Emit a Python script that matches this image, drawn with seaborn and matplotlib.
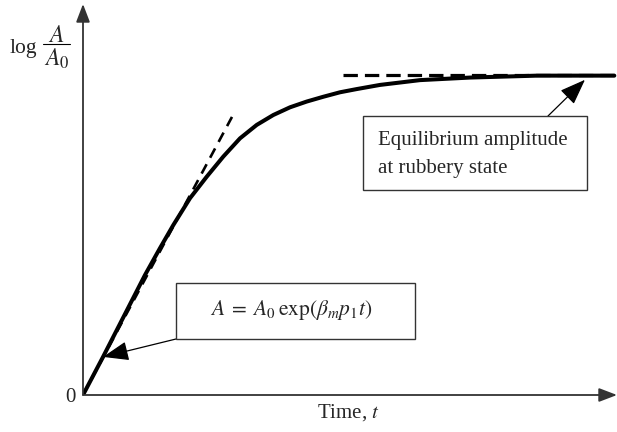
import numpy as np
import pandas as pd
import matplotlib
matplotlib.use("Agg")
import matplotlib.pyplot as plt
import matplotlib.transforms as mtransforms
from matplotlib.patches import Rectangle
from matplotlib.lines import Line2D
import seaborn as sns

# Growth of the log amplitude ratio with time
t_vals = [0.0, 0.375, 1.161, 1.442, 1.691, 2.004, 2.316, 2.627, 2.940,
          3.253, 3.564, 3.876, 4.189, 4.500, 4.813, 5.125, 5.562, 6.311,
          7.247, 8.502, 9.95]
log_ratio = [0.0, 0.119, 0.375, 0.459, 0.531, 0.615, 0.682, 0.745, 0.802,
             0.844, 0.875, 0.899, 0.917, 0.932, 0.946, 0.956, 0.969, 0.984,
             0.992, 0.998, 0.998]

# Initial exponential growth (tangent at origin)
tangent_t = [0.0, 2.79]
tangent_y = [0.0, 0.869]

# Equilibrium amplitude level
plateau_t = [4.87, 10.0]
plateau_y = [1.0, 1.0]

W, H, DPI = 617, 432, 100

sns.set_theme(style="white")
plt.rcParams["font.family"] = ["Liberation Serif", "DejaVu Serif"]
plt.rcParams["mathtext.fontset"] = "stix"

fig = plt.figure(figsize=(W / DPI, H / DPI), dpi=DPI)
fig.patch.set_facecolor("white")

ox, oy = 83, 395           # origin in pixels
t_max = 10.0
y_top = 395 / 320.0
ax = fig.add_axes([ox / W, (H - oy) / H, (W - ox) / W, oy / H])
ax.set_xlim(0, t_max)
ax.set_ylim(0, y_top)
ax.axis("off")

# pixel transform (origin top-left) for annotations
px = mtransforms.Affine2D().scale(1 / W, -1 / H).translate(0, 1) + fig.transFigure

df = pd.DataFrame({"t": t_vals, "logA": log_ratio})
sns.lineplot(data=df, x="t", y="logA", ax=ax, color="black", linewidth=2.9,
             sort=False, estimator=None, zorder=3)

ax.plot(tangent_t, tangent_y, color="black", linewidth=1.9,
        linestyle=(0, (4.0, 2.8)), zorder=2, solid_capstyle="butt")
ax.plot(plateau_t, plateau_y, color="black", linewidth=2.3,
        linestyle=(0, (4.5, 2.2)), zorder=2)

# axes with arrowheads
axis_style = dict(arrowstyle="-|>,head_length=1.1,head_width=0.42",
                  color="#333333", lw=1.3, shrinkA=0, shrinkB=0,
                  mutation_scale=10)
ax.annotate("", xy=(ox, 4), xycoords=px, xytext=(ox, oy), textcoords=px,
            arrowprops=axis_style, annotation_clip=False)
ax.annotate("", xy=(617, oy), xycoords=px, xytext=(ox, oy), textcoords=px,
            arrowprops=axis_style, annotation_clip=False)

# y-axis label: log A / A0
fig.text(10, 53, "log", transform=px, fontsize=15.5, ha="left",
         va="baseline")
fig.text(56, 41.5, r"$A$", transform=px, fontsize=17, ha="center",
         va="baseline")
fig.text(57, 66, r"$A_0$", transform=px, fontsize=17, ha="center",
         va="baseline")
fig.lines.append(Line2D([43, 70], [44, 44], transform=px, color="black",
                        linewidth=0.8))

fig.text(76, 397, "0", transform=px, fontsize=15, ha="right", va="center")
fig.text(348, 413, r"Time, $t$", transform=px, fontsize=15,
         ha="center", va="center")

# annotation boxes
box_kw = dict(facecolor="white", edgecolor="#333333", linewidth=1.0,
              transform=px, zorder=5)
fig.patches.append(Rectangle((363, 116), 224, 74, **box_kw))
fig.patches.append(Rectangle((176, 283), 239, 56, **box_kw))

fig.text(378, 140, "Equilibrium amplitude", transform=px, fontsize=15,
         ha="left", va="center", zorder=6)
fig.text(378, 168, "at rubbery state", transform=px, fontsize=15,
         ha="left", va="center", zorder=6)
fig.text(291, 310, r"$A\;=\;A_0\,\exp(\beta_m p_1 t)$", transform=px,
         fontsize=15.5, ha="center", va="center", zorder=6)

pointer = dict(arrowstyle="-|>,head_length=1.6,head_width=0.6",
               color="black", lw=0.9, shrinkA=0, shrinkB=0,
               mutation_scale=10)
ax.annotate("", xy=(9.40, 0.985), xycoords="data",
            xytext=(548, 116), textcoords=px, arrowprops=pointer,
            annotation_clip=False, zorder=6)
ax.annotate("", xy=(0.375, 0.119), xycoords="data",
            xytext=(176, 339), textcoords=px, arrowprops=pointer,
            annotation_clip=False, zorder=6)

fig.savefig("out.png", dpi=DPI, facecolor="white")
